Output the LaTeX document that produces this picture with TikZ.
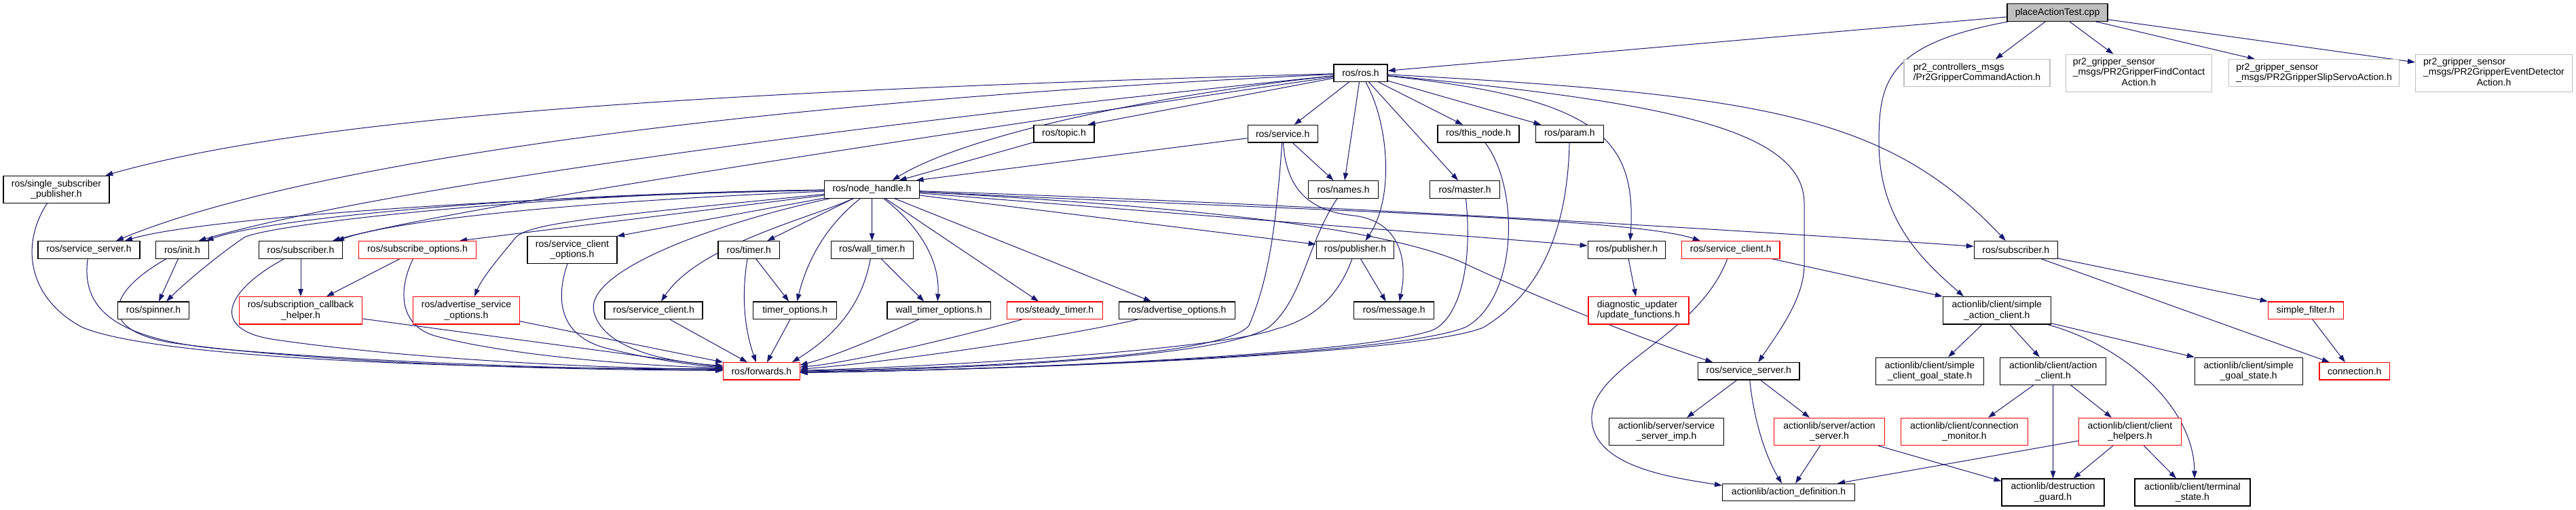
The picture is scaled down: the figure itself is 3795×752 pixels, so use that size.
\documentclass[tikz,border=0pt]{standalone}
\usepackage{fontspec}
\setmainfont{Liberation Sans}
\usetikzlibrary{arrows.meta,calc}
\definecolor{edgec}{HTML}{191970}
\definecolor{greyb}{HTML}{BFBFBF}
\newcommand{\leftlines}[1]{\begin{tabular}{@{}l@{}}#1\end{tabular}}
\newcommand{\midline}[1]{\multicolumn{1}{@{}c@{}}{#1}}
\pgfdeclarelayer{bg}
\pgfsetlayers{bg,main}
\tikzset{
  nb/.style={draw=black, line width=1.1pt, rectangle, inner sep=0pt, align=center,
    font=\fontsize{14pt}{15.3pt}\selectfont, fill=white},
  rb/.style={nb, draw=red},
  gb/.style={nb, draw=greyb},
  tb/.style={nb, fill=greyb},
  e/.style={draw=edgec, line width=1pt, -{Triangle[length=11pt,width=7.5pt]}},
}
\begin{document}
\begin{tikzpicture}[x=1pt,y=-1pt]
\useasboundingbox (0,0) rectangle (3795,752);
% row 0
\node[tb, minimum width=148, minimum height=25.6] (top) at (3031,18.5) {placeActionTest.cpp};
% row 1
\node[nb, minimum width=79, minimum height=25.5] (ros) at (2004.5,107.7) {ros/ros.h};
\node[gb, minimum width=215, minimum height=40] (pcmd) at (2912.5,107.8) {\leftlines{pr2\_controllers\_msgs\\/Pr2GripperCommandAction.h}};
\node[gb, minimum width=215, minimum height=55] (pfind) at (3151,107.8) {\leftlines{pr2\_gripper\_sensor\\\_msgs/PR2GripperFindContact\\\midline{Action.h}}};
\node[gb, minimum width=251, minimum height=40] (pslip) at (3409,107.8) {\leftlines{pr2\_gripper\_sensor\\\_msgs/PR2GripperSlipServoAction.h}};
\node[gb, minimum width=231, minimum height=55] (pevent) at (3674,107.8) {\leftlines{pr2\_gripper\_sensor\\\_msgs/PR2GripperEventDetector\\\midline{Action.h}}};
% row 2
\node[nb, minimum width=89, minimum height=25.5] (topic) at (1567.5,197.2) {ros/topic.h};
\node[nb, minimum width=103, minimum height=25.5] (service) at (1889.7,197.2) {ros/service.h};
\node[nb, minimum width=120, minimum height=25.5] (thisnode) at (2178,197.2) {ros/this\_node.h};
\node[nb, minimum width=100, minimum height=25.5] (param) at (2312.4,197.2) {ros/param.h};
% row 3
\node[nb, minimum width=156, minimum height=40] (ssp) at (83,279.2) {ros/single\_subscriber\\\_publisher.h};
\node[nb, minimum width=140, minimum height=25.5] (nh) at (1284.5,279.3) {ros/node\_handle.h};
\node[nb, minimum width=103, minimum height=25.5] (names) at (1979,279.3) {ros/names.h};
\node[nb, minimum width=103, minimum height=25.5] (master) at (2158,279.3) {ros/master.h};
% row 4
\node[nb, minimum width=150, minimum height=25.5] (ssrv1) at (131,368.3) {ros/service\_server.h};
\node[nb, minimum width=77.5, minimum height=25.5] (init) at (268.5,368.3) {ros/init.h};
\node[nb, minimum width=123, minimum height=25.5] (sub1) at (443,368.3) {ros/subscriber.h};
\node[rb, minimum width=172.6, minimum height=25.5] (subopt) at (615,368.3) {ros/subscribe\_options.h};
\node[nb, minimum width=132, minimum height=39.6] (scopt) at (843,368.5) {ros/service\_client\\\_options.h};
\node[nb, minimum width=90.6, minimum height=25.5] (timer) at (1103.3,368.3) {ros/timer.h};
\node[nb, minimum width=121, minimum height=25.5] (wtimer) at (1284.7,368.3) {ros/wall\_timer.h};
\node[nb, minimum width=114.7, minimum height=25.5] (pub1) at (1996.5,368.3) {ros/publisher.h};
\node[nb, minimum width=114.7, minimum height=25.5] (pub2) at (2396.5,368.3) {ros/publisher.h};
\node[rb, minimum width=144.4, minimum height=25.5] (sclient2) at (2549.8,368.3) {ros/service\_client.h};
\node[nb, minimum width=123, minimum height=25.5] (sub2) at (2969.8,368.3) {ros/subscriber.h};
% row 5
\node[nb, minimum width=104.5, minimum height=25.7] (spinner) at (226,457.8) {ros/spinner.h};
\node[rb, minimum width=181.7, minimum height=40.3] (scbh) at (443,457.8) {ros/subscription\_callback\\\_helper.h};
\node[rb, minimum width=157, minimum height=40.3] (asopt) at (687,457.8) {ros/advertise\_service\\\_options.h};
\node[nb, minimum width=144, minimum height=25.7] (sclient1) at (963,457.8) {ros/service\_client.h};
\node[nb, minimum width=123, minimum height=25.7] (topt) at (1171.2,457.8) {timer\_options.h};
\node[nb, minimum width=152.6, minimum height=25.7] (wtopt) at (1383.3,457.8) {wall\_timer\_options.h};
\node[rb, minimum width=141.6, minimum height=25.7] (steady) at (1554,457.8) {ros/steady\_timer.h};
\node[nb, minimum width=171, minimum height=25.7] (aopt) at (1734,457.8) {ros/advertise\_options.h};
\node[nb, minimum width=118, minimum height=25.7] (message) at (2053.7,457.8) {ros/message.h};
\node[rb, minimum width=148, minimum height=40.3] (diag) at (2414,457.8) {\leftlines{diagnostic\_updater\\/update\_functions.h}};
\node[nb, minimum width=158.8, minimum height=40.3] (sac) at (2941.8,457.8) {actionlib/client/simple\\\_action\_client.h};
\node[rb, minimum width=111, minimum height=25.7] (sfilter) at (3396.7,457.8) {simple\_filter.h};
% row 6
\node[rb, minimum width=112.3, minimum height=25.3] (fwd) at (1121.9,547.3) {ros/forwards.h};
\node[nb, minimum width=149.4, minimum height=25.3] (ssrv2) at (2576.3,547.3) {ros/service\_server.h};
\node[nb, minimum width=158.8, minimum height=40] (scgs) at (2843,547.2) {actionlib/client/simple\\\_client\_goal\_state.h};
\node[nb, minimum width=156.3, minimum height=40] (ac) at (3024.7,547.2) {actionlib/client/action\\\_client.h};
\node[nb, minimum width=158.8, minimum height=40] (sgs) at (3312.7,547.2) {actionlib/client/simple\\\_goal\_state.h};
\node[rb, minimum width=103.7, minimum height=25.3] (conn) at (3468.8,547.3) {connection.h};
% row 7
\node[nb, minimum width=168.6, minimum height=40.3] (ssimp) at (2455,636.5) {actionlib/server/service\\\_server\_imp.h};
\node[rb, minimum width=163, minimum height=40.3] (aserver) at (2695,636.5) {actionlib/server/action\\\_server.h};
\node[rb, minimum width=187, minimum height=40.3] (cmon) at (2893.9,636.5) {actionlib/client/connection\\\_monitor.h};
\node[rb, minimum width=151, minimum height=40.3] (chelp) at (3137.9,636.5) {actionlib/client/client\\\_helpers.h};
% row 8
\node[nb, minimum width=195, minimum height=25] (adef) at (2635,725.8) {actionlib/action\_definition.h};
\node[nb, minimum width=151, minimum height=40] (dguard) at (3024.5,726) {actionlib/destruction\\\_guard.h};
\node[nb, minimum width=170, minimum height=40] (tstate) at (3230,726) {actionlib/client/terminal\\\_state.h};

\begin{pgfonlayer}{bg}
\fill[white] (0,0) rectangle (3795,752);
% from top
\draw[e] (top) -- (ros);
\draw[e] (top) .. controls (2780,65) and (2768,120) .. (2768,210) .. controls (2768,330) and (2840,390) .. ([xshift=-49]sac.north);
\draw[e] (top) -- (pcmd);
\draw[e] (top) -- (pfind);
\draw[e] (top) -- (pslip);
\draw[e] (top) -- (pevent);
% from ros
\draw[e] (ros) .. controls (1000,135) and (450,175) .. (ssp);
\draw[e] (ros) .. controls (1100,150) and (450,240) .. ([xshift=40]ssrv1.north);
\draw[e] (ros) .. controls (1200,190) and (550,280) .. ([xshift=24]init.north);
\draw[e] (ros) .. controls (1300,210) and (650,310) .. ([xshift=47]sub1.north);
\draw[e] (ros) .. controls (1700,140) and (1420,200) .. ([xshift=30]nh.north);
\draw[e] (ros) -- ([xshift=35]topic.north);
\draw[e] (ros) -- ([xshift=17]service.north);
\draw[e] (ros) -- (names);
\draw[e] (ros) .. controls (2045,180) and (2055,290) .. ([xshift=15]pub1.north);
\draw[e] (ros) -- ([xshift=-10]master.north);
\draw[e] (ros) -- ([xshift=-23]thisnode.north);
\draw[e] (ros) -- ([xshift=-42]param.north);
\draw[e] (ros) .. controls (2350,145) and (2412,200) .. ([xshift=5]pub2.north);
\draw[e] (ros) .. controls (2600,140) and (2780,170) .. ([xshift=-15]sub2.north);
\draw[e] (ros) .. controls (2450,150) and (2658,190) .. (2658,300) -- (2658,390) .. controls (2658,440) and (2620,490) .. ([xshift=14]ssrv2.north);
% topic, service
\draw[e] (topic) -- ([xshift=40]nh.north);
\draw[e] (service) -- ([xshift=65]nh.north);
\draw[e] (service) -- (names);
\draw[e] (service) .. controls (1895,285) and (1935,312) .. (1995,318) .. controls (2060,326) and (2075,380) .. ([xshift=8]message.north);
\draw[e] (service) .. controls (1880,330) and (1870,410) .. (1840,480) .. controls (1800,530) and (1400,542) .. (fwd.east);
% to forwards from the right
\draw[e] (names) .. controls (1925,360) and (1920,440) .. (1870,482) .. controls (1800,530) and (1400,544) .. ([yshift=-1]fwd.east);
\draw[e] (master) .. controls (2170,390) and (2150,470) .. (2110,487) .. controls (2000,525) and (1450,546) .. ([yshift=-2]fwd.east);
\draw[e] (thisnode) .. controls (2240,280) and (2235,440) .. (2160,482) .. controls (2060,525) and (1450,546) .. ([yshift=-2]fwd.east);
\draw[e] (param) .. controls (2310,300) and (2290,420) .. (2185,483) .. controls (2080,525) and (1450,546) .. ([yshift=-2]fwd.east);
\draw[e] (pub1) .. controls (1975,430) and (1940,470) .. (1880,485) .. controls (1800,515) and (1400,540) .. ([yshift=1]fwd.east);
\draw[e] (pub1) -- ([xshift=-12]message.north);
\draw[e] (pub2) -- (diag);
\draw[e] (sclient2) -- (sac.north west);
\draw[e] (sclient2) .. controls (2500,500) and (2340,540) .. (2345,620) .. controls (2350,690) and (2470,705) .. ([yshift=10]adef.west);
\draw[e] (sub2) -- (sfilter.north west);
\draw[e] (sub2) -- ([xshift=-37]conn.north);
% actionlib
\draw[e] (sac) -- ([xshift=27]scgs.north);
\draw[e] (sac) -- ([xshift=-20]ac.north);
\draw[e] (sac) -- (sgs.north west);
\draw[e] (sac) .. controls (3130,510) and (3232,600) .. ([xshift=3]tstate.north);
\draw[e] (ac) -- ([xshift=35]cmon.north);
\draw[e] (ac) -- (dguard);
\draw[e] (ac) -- ([xshift=-27]chelp.north);
\draw[e] (chelp) -- ([xshift=72]adef.north);
\draw[e] (chelp) -- ([xshift=30]dguard.north);
\draw[e] (chelp) -- ([xshift=-24]tstate.north);
\draw[e] (aserver) -- ([xshift=10]adef.north);
\draw[e] (aserver) -- ([yshift=-4]dguard.north west);
\draw[e] (ssrv2) .. controls (2585,630) and (2605,680) .. ([xshift=-10]adef.north);
\draw[e] (ssrv2) -- ([xshift=-29]aserver.north);
\draw[e] (ssrv2) -- ([xshift=30]ssimp.north);
\draw[e] (sfilter) -- ([xshift=-14]conn.north);
% left part
\draw[e] (ssp) .. controls (30,360) and (40,440) .. (122,483) .. controls (250,535) and (800,545) .. ([yshift=4]fwd.west);
\draw[e] (ssrv1) .. controls (120,450) and (160,500) .. (330,515) .. controls (600,538) and (900,545) .. ([yshift=2]fwd.west);
\draw[e] (init) -- ([xshift=8]spinner.north);
\draw[e] (init) .. controls (160,430) and (140,485) .. (250,505) .. controls (500,540) and (900,546) .. ([yshift=1]fwd.west);
\draw[e] (sub1) -- (scbh);
\draw[e] (sub1) .. controls (330,430) and (310,485) .. (400,500) .. controls (600,530) and (900,544) .. ([yshift=3]fwd.west);
\draw[e] (subopt) -- ([xshift=38]scbh.north);
\draw[e] (subopt) .. controls (585,430) and (590,480) .. (640,495) .. controls (750,525) and (950,540) .. ([yshift=5]fwd.west);
\draw[e] (scbh) -- ([yshift=6]fwd.west);
\draw[e] (asopt) -- (fwd.north west);
\draw[e] (scopt) .. controls (815,450) and (830,500) .. (900,515) .. controls (960,530) and (1020,538) .. ([yshift=5]fwd.west);
\draw[e] (sclient1) -- ([xshift=-21]fwd.north);
\draw[e] (timer) .. controls (1093,430) and (1095,480) .. ([xshift=-8]fwd.north);
\draw[e] (timer) -- ([xshift=-9]topt.north);
\draw[e] (topt) -- ([xshift=8]fwd.north);
\draw[e] (wtimer) .. controls (1270,450) and (1230,495) .. ([xshift=45]fwd.north);
\draw[e] (wtimer) -- ([xshift=-22]wtopt.north);
\draw[e] (wtopt) .. controls (1300,495) and (1230,525) .. ([yshift=9]fwd.east);
\draw[e] (steady) .. controls (1400,500) and (1250,535) .. ([yshift=6]fwd.east);
\draw[e] (aopt) .. controls (1550,500) and (1300,535) .. ([yshift=3]fwd.east);
% from node_handle
\draw[e] (nh) -- (wtimer);
\draw[e] (nh) .. controls (1350,330) and (1385,380) .. ([xshift=-2]wtopt.north);
\draw[e] (nh) -- ([xshift=-24]steady.north);
\draw[e] (nh) -- ([xshift=-38]aopt.north);
\draw[e] (nh) -- ([yshift=8]pub1.west);
\draw[e] (nh) -- ([yshift=6]pub2.west);
\draw[e] (nh) .. controls (1900,310) and (2400,320) .. ([xshift=-45]sclient2.north);
\draw[e] (nh) .. controls (1900,300) and (2500,335) .. ([yshift=5]sub2.west);
\draw[e] (nh) .. controls (1850,310) and (2050,345) .. (2150,385) .. controls (2300,455) and (2450,510) .. ([xshift=-53]ssrv2.north);
\draw[e] (nh) .. controls (1050,330) and (860,400) .. (875,460) .. controls (890,520) and (1000,535) .. ([yshift=8]fwd.west);
\draw[e] (nh) .. controls (1200,320) and (1030,360) .. ([xshift=11]sclient1.north);
\draw[e] (nh) -- ([xshift=27]timer.north);
\draw[e] (nh) .. controls (1220,330) and (1190,380) .. ([xshift=3]topt.north);
\draw[e] (nh) -- ([xshift=66]scopt.north);
\draw[e] (nh) -- ([xshift=62]subopt.north);
\draw[e] (nh) .. controls (900,318) and (780,328) .. (760,350) .. controls (735,380) and (710,410) .. ([xshift=12]asopt.north);
\draw[e] (nh) .. controls (900,295) and (600,320) .. ([xshift=53]sub1.north);
\draw[e] (nh) .. controls (800,288) and (300,320) .. ([xshift=53]ssrv1.north);
\draw[e] (nh) .. controls (800,285) and (400,320) .. ([xshift=35]init.north);
\draw[e] (nh) .. controls (800,285) and (400,330) .. (360,350) .. controls (330,370) and (280,410) .. ([xshift=19]spinner.north);
\end{pgfonlayer}
\end{tikzpicture}
\end{document}
